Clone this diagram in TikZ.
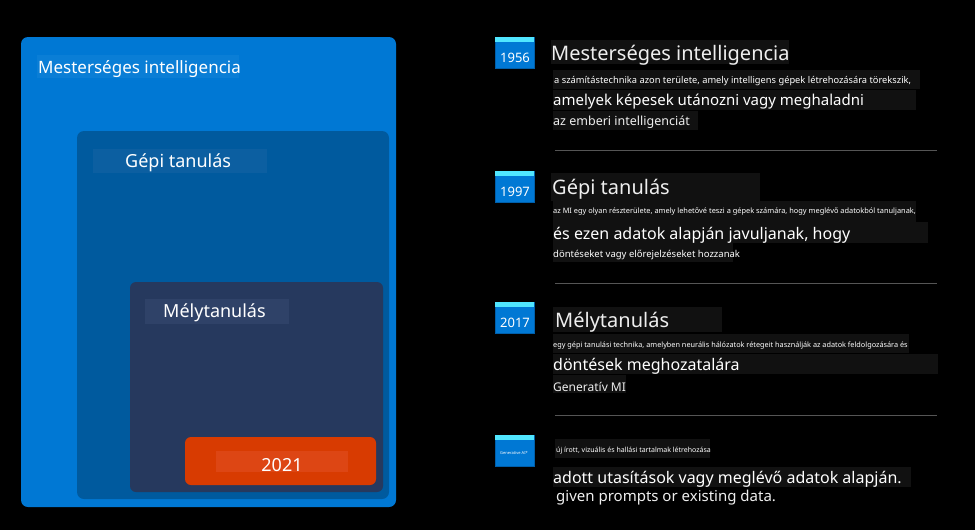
\documentclass[tikz,border=0pt]{standalone}
\usepackage{fontspec}
\setmainfont{Noto Sans}
\definecolor{aiblue}{RGB}{0,120,212}
\definecolor{aibg}{RGB}{10,126,214}
\definecolor{mlblue}{RGB}{0,90,158}
\definecolor{mlbg}{RGB}{12,95,161}
\definecolor{dlnavy}{RGB}{38,57,94}
\definecolor{dlbg}{RGB}{47,66,104}
\definecolor{genor}{RGB}{216,59,1}
\definecolor{genbg}{RGB}{221,70,20}
\definecolor{stripe}{RGB}{80,230,255}
\definecolor{yrborder}{RGB}{0,95,170}
\definecolor{txtbg}{RGB}{17,17,17}
\definecolor{sepgray}{RGB}{85,85,85}
\definecolor{lighttxt}{RGB}{238,238,238}
\newcommand{\fsz}[1]{\fontsize{#1}{#1}\selectfont}
\tikzset{
  txt/.style={inner sep=0pt, anchor=west, text=lighttxt, yshift=-2pt},
  yeartxt/.style={inner sep=0pt, anchor=center, text=white, yshift=-1pt},
  sepline/.style={draw=sepgray, line width=1pt},
}
\begin{document}
\begin{tikzpicture}[x=1pt,y=-1pt]
\fill[black] (0,0) rectangle (975,530);
\useasboundingbox (0,0) rectangle (975,530);

% ---- nested boxes (left)
\fill[aiblue, rounded corners=7pt] (21,37) rectangle (396,507);
\fill[aibg] (37,55) rectangle (239,78);
\node[txt, text=white] (ailab) at (38,67) {\fsz{17}Mesterséges intelligencia};

\fill[mlblue, rounded corners=7pt] (77,131) rectangle (389,499);
\fill[mlbg] (93,149) rectangle (267,173);
\node[txt, text=white] (mllab) at (125,161) {\fsz{18}Gépi tanulás};

\fill[dlnavy, rounded corners=6pt] (130,282) rectangle (383,492);
\fill[dlbg] (145,299) rectangle (289,324);
\node[txt, text=white] (dllab) at (163,311) {\fsz{18}Mélytanulás};

\fill[genor, rounded corners=6pt] (185,437) rectangle (376,485);
\fill[genbg] (216,451) rectangle (348,472);
\node[yeartxt] (genlab) at (282,464) {\fsz{18}2021};

% ---- year badges
\foreach \yy/\lab/\nm in {37/1956/y1, 171/1997/y2, 302/2017/y3}{
  \fill[aiblue] (495,\yy) rectangle (534,\yy+31);
  \draw[yrborder, line width=0.8pt] (495,\yy) rectangle (534,\yy+31);
  \fill[stripe] (495,\yy) rectangle (534,\yy+5);
  \node[yeartxt] (\nm) at (515,\yy+20) {\fsz{13}\lab};
}
\fill[aiblue] (495,435) rectangle (534,466);
\draw[yrborder, line width=0.8pt] (495,435) rectangle (534,466);
\fill[stripe] (495,435) rectangle (534,440);
\node[yeartxt] (y4) at (514,452) {\fsz{4}Generative AI*};

% ---- 1956
\fill[txtbg] (551,40) rectangle (789,64);
\node[txt] (t1) at (551,53) {\fsz{20}Mesterséges intelligencia};
\fill[txtbg] (553,70) rectangle (920,89);
\node[txt, text=white] (d1a) at (554,79) {\fsz{9.3}a számítástechnika azon területe, amely intelligens gépek létrehozására törekszik,};
\fill[txtbg] (553,90) rectangle (916,110);
\node[txt, text=white] (d1b) at (553,100) {\fsz{15}amelyek képesek utánozni vagy meghaladni};
\fill[txtbg] (553,111) rectangle (698,130);
\node[txt] (d1c) at (553,120) {\fsz{12.5}az emberi intelligenciát};
\draw[sepline] (555,150) -- (937,150);

% ---- 1997
\fill[txtbg] (551,173) rectangle (760,201);
\node[txt] (t2) at (552,187) {\fsz{20}Gépi tanulás};
\fill[txtbg] (553,201) rectangle (916,222);
\node[txt, text=white] (d2a) at (553,210) {\fsz{7.4}az MI egy olyan részterülete, amely lehetővé teszi a gépek számára, hogy meglévő adatokból tanuljanak,};
\fill[txtbg] (553,222) rectangle (928,243);
\node[txt, text=white] (d2b) at (553,233) {\fsz{16}és ezen adatok alapján javuljanak, hogy};
\fill[txtbg] (553,243) rectangle (733,262);
\node[txt, text=white] (d2c) at (553,253) {\fsz{9.5}döntéseket vagy előrejelzéseket hozzanak};
\draw[sepline] (555,283) -- (937,283);

% ---- 2017
\fill[txtbg] (553,307) rectangle (722,332);
\node[txt] (t3) at (555,320) {\fsz{20}Mélytanulás};
\fill[txtbg] (553,334) rectangle (909,353);
\node[txt, text=white] (d3a) at (553,344) {\fsz{7.3}egy gépi tanulási technika, amelyben neurális hálózatok rétegeit használják az adatok feldolgozására és};
\fill[txtbg] (553,354) rectangle (938,374);
\node[txt, text=white] (d3b) at (553,364) {\fsz{16}döntések meghozatalára};
\fill[txtbg] (553,375) rectangle (626,393);
\node[txt] (d3c) at (553,385) {\fsz{12}Generatív MI};
\draw[sepline] (555,415) -- (937,415);

% ---- generative
\fill[txtbg] (555,439) rectangle (710,458);
\node[txt, text=white] (d4a) at (556,449) {\fsz{7}új írott, vizuális és hallási tartalmak létrehozása};
\fill[txtbg] (553,467) rectangle (911,487);
\node[txt, text=white] (d4b) at (553,477) {\fsz{16}adott utasítások vagy meglévő adatok alapján.};
\node[txt] (d4c) at (556,496) {\fsz{15}given prompts or existing data.};
\end{tikzpicture}
\end{document}
